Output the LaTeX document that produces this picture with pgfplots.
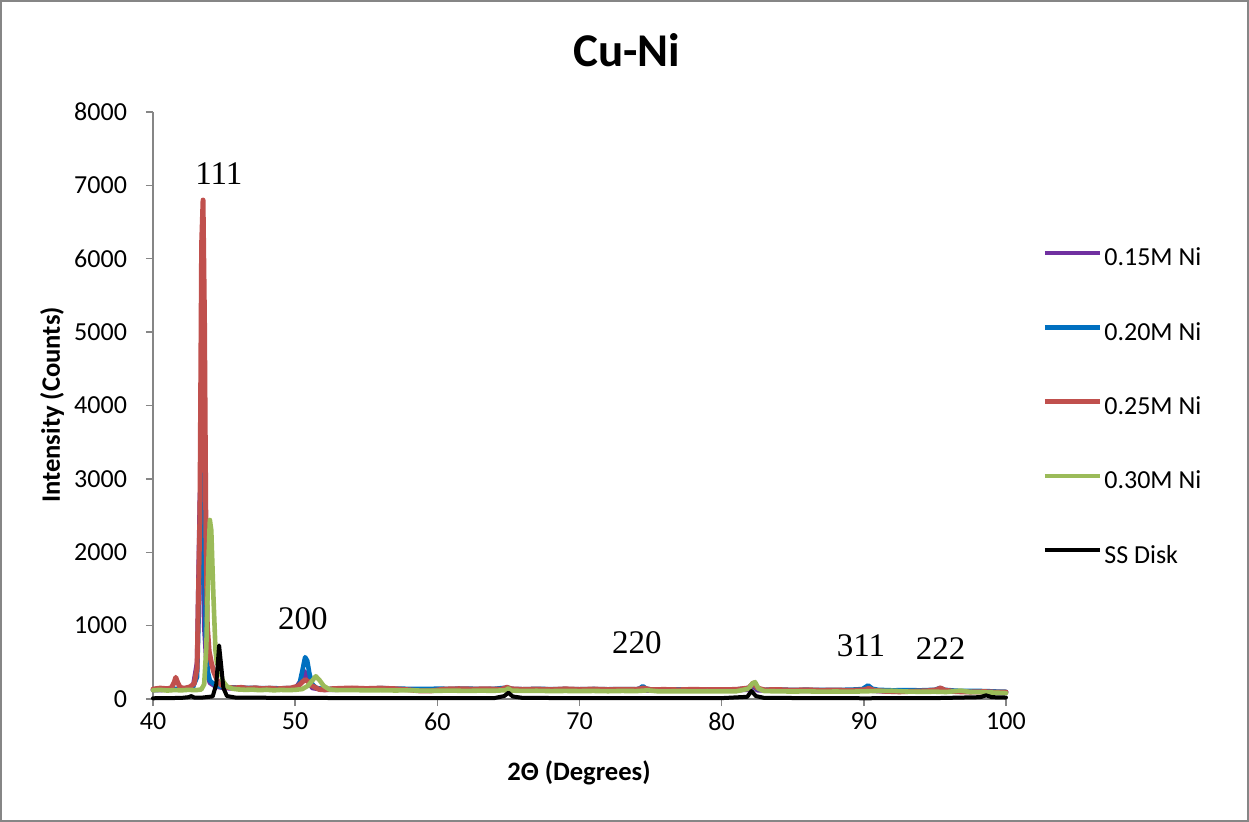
\documentclass[border=0pt]{standalone}
\usepackage{fontspec}
\setmainfont{Carlito}
\newfontfamily\peakfont{Liberation Serif}
\usepackage{pgfplots}
\pgfplotsset{compat=1.18}

\definecolor{cPurple}{HTML}{7030A0}
\definecolor{cBlue}{HTML}{0070C0}
\definecolor{cRed}{HTML}{C0504D}
\definecolor{cGreen}{HTML}{9BBB59}
\definecolor{cAxis}{HTML}{868686}

% XRD scans: 2-theta (degrees) vs intensity (counts)
\pgfplotstableread{
x y
40.0 120
41.0 125
42.0 130
42.8 150
43.1 500
43.3 2800
43.45 2900
43.6 1000
43.8 350
44.0 220
44.4 170
45.0 150
46.0 140
47.0 140
48.0 135
49.0 138
50.0 140
50.4 250
50.65 380
50.9 260
51.2 150
52.0 125
55.0 130
60.0 125
65.0 135
70.0 120
75.0 115
80.0 118
81.9 125
82.2 180
82.5 120
85.0 112
90.0 115
90.1 118
90.35 140
90.6 112
92.0 100
95.0 105
95.2 110
95.4 128
95.6 105
97.0 100
100.0 90
}\NiA

\pgfplotstableread{
x y
40.0 125
41.0 130
42.0 140
42.8 160
43.1 300
43.3 1800
43.45 3300
43.55 2600
43.7 900
43.85 380
44.0 250
44.3 200
44.7 170
45.2 160
46.0 155
47.0 150
48.0 148
49.0 145
50.0 150
50.3 200
50.5 380
50.7 570
50.85 520
51.0 350
51.2 200
51.5 150
52.0 135
53.0 140
54.0 145
55.0 140
56.0 148
57.0 142
58.0 138
59.0 136
60.0 140
61.0 138
62.0 142
63.0 136
64.0 138
64.9 155
65.3 135
66.0 132
67.0 138
68.0 134
69.0 136
70.0 132
71.0 136
72.0 132
73.0 135
74.0 132
74.25 145
74.45 175
74.7 140
75.0 130
76.0 128
77.0 130
78.0 128
79.0 130
80.0 126
81.0 128
81.9 150
82.2 205
82.5 140
83.0 125
84.0 128
85.0 124
86.0 126
87.0 122
88.0 124
89.0 126
89.9 135
90.3 185
90.6 140
91.0 125
92.0 118
93.0 120
94.0 118
95.0 125
95.35 150
95.7 125
96.5 112
97.5 110
98.5 108
99.5 100
100.0 98
}\NiB

\pgfplotstableread{
x y
40.0 135
40.5 148
41.0 140
41.3 152
41.5 230
41.6 295
41.7 240
41.9 160
42.2 145
42.6 165
42.9 210
43.1 420
43.3 2500
43.42 6200
43.52 6800
43.62 5200
43.72 2300
43.82 1000
43.95 650
44.1 500
44.25 380
44.5 260
44.8 190
45.2 160
45.7 150
46.2 158
46.7 145
47.2 152
47.7 140
48.2 148
48.7 138
49.2 145
49.7 150
50.2 175
50.5 230
50.7 265
50.9 240
51.1 190
51.4 160
51.7 130
52.1 125
52.6 140
53.2 145
54.0 150
55.0 142
56.0 148
57.0 140
58.0 125
58.8 110
59.6 112
60.5 135
61.5 140
62.5 135
63.5 138
64.5 132
64.9 160
65.2 138
66.0 130
67.0 135
68.0 128
69.0 138
70.0 130
71.0 135
72.0 128
73.0 132
74.0 130
74.5 150
75.0 128
76.0 130
77.0 125
78.0 132
79.0 126
80.0 128
81.0 130
81.9 150
82.2 215
82.5 150
83.0 125
84.0 128
85.0 120
86.0 126
87.0 118
88.0 122
89.0 116
90.0 125
90.35 145
90.7 120
91.5 105
92.5 98
93.5 105
94.5 112
95.1 125
95.4 150
95.7 120
96.5 100
97.5 95
98.5 100
99.5 92
100.0 95
}\NiC

\pgfplotstableread{
x y
40.0 118
40.5 125
41.0 115
41.5 122
42.0 118
42.5 125
43.0 120
43.4 130
43.6 200
43.75 700
43.9 1900
44.0 2440
44.1 2300
44.25 1400
44.4 650
44.5 480
44.6 500
44.7 420
44.9 250
45.2 170
45.6 140
46.0 130
46.5 125
47.0 128
47.5 120
48.0 126
48.5 118
49.0 124
49.5 120
50.0 125
50.5 135
50.9 180
51.2 250
51.45 310
51.7 260
52.0 180
52.4 130
53.0 120
54.0 122
55.0 118
56.0 120
57.0 116
58.0 118
59.0 114
60.0 112
61.0 115
62.0 110
63.0 114
64.0 112
64.8 120
65.0 145
65.2 115
66.0 110
67.0 112
68.0 108
69.0 110
70.0 108
71.0 110
72.0 106
73.0 110
74.0 108
74.8 118
75.5 105
76.0 104
77.0 106
78.0 104
79.0 105
80.0 103
81.0 104
81.9 140
82.15 210
82.35 230
82.6 140
83.0 108
84.0 104
85.0 102
86.0 104
87.0 100
88.0 102
89.0 100
90.0 104
91.0 110
92.0 112
93.0 102
94.0 98
95.0 100
95.8 95
96.8 115
97.5 95
98.5 92
99.5 85
100.0 80
}\NiD

\pgfplotstableread{
x y
40.0 10
41.0 12
42.0 15
42.5 25
42.7 40
42.9 20
43.5 20
44.2 35
44.45 200
44.65 730
44.8 450
44.95 150
45.2 40
45.8 20
47.0 18
50.0 15
55.0 12
60.0 12
64.0 12
64.7 40
65.0 85
65.3 35
66.0 15
70.0 12
75.0 12
80.0 12
81.8 30
82.1 110
82.4 40
83.0 15
90.0 10
95.0 12
98.2 25
98.6 50
99.0 25
100.0 20
}\SSDisk

\begin{document}
\begin{tikzpicture}
\path[use as bounding box] (0,0) rectangle (624.5bp,411bp);
\draw[cAxis, line width=0.8bp] (0.4bp,0.4bp) rectangle (624.1bp,410.6bp);
\begin{axis}[
  at={(76.5bp,61.5bp)}, anchor=south west,
  scale only axis, width=426.5bp, height=293.5bp,
  xmin=40, xmax=100, ymin=0, ymax=8000,
  axis x line*=bottom, axis y line*=left,
  axis line style={draw=cAxis, line width=0.7bp, -},
  xtick={40,50,...,100}, ytick={0,1000,...,8000},
  tick align=outside, major tick length=3.5bp,
  tick style={draw=cAxis, line width=0.7bp},
  scaled y ticks=false,
  /pgf/number format/assume math mode=true,
  /pgf/number format/1000 sep={},
  tick label style={font=\fontsize{13bp}{15bp}\selectfont, text=black},
  yticklabel style={xshift=-6bp},
  title={Cu-Ni},
  title style={at={(axis description cs:0.5557,1.085)}, anchor=center,
    font=\fontsize{23.5bp}{27bp}\selectfont\bfseries},
  xlabel={2Θ (Degrees)},
  xlabel style={at={(axis description cs:0.4994,-0.126)}, anchor=center,
    font=\fontsize{13.3bp}{15bp}\selectfont\bfseries},
  ylabel={Intensity (Counts)},
  ylabel style={at={(axis description cs:-0.1184,0.5009)}, anchor=center,
    font=\fontsize{13.3bp}{15bp}\selectfont\bfseries},
  legend cell align=left,
  legend image code/.code={\draw[#1, line cap=butt] (0bp,3.4bp) -- (27.5bp,3.4bp);},
  legend style={draw=none, fill=none,
    at={(axis description cs:1.0422,0.4950)}, anchor=west,
    font=\fontsize{13bp}{15bp}\selectfont,
    inner sep=0pt, row sep=25.2bp, column sep=1bp,
    nodes={inner sep=0pt, text height=9bp, text depth=3bp}},
  every axis plot/.append style={line width=2.3bp, line join=round, line cap=round},
  clip=false,
]
\addplot[cPurple] table {\NiA};
\addlegendentry{0.15M Ni}
\addplot[cBlue] table {\NiB};
\addlegendentry{0.20M Ni}
\addplot[cRed, line width=2.5bp] table {\NiC};
\addlegendentry{0.25M Ni}
\addplot[cGreen] table {\NiD};
\addlegendentry{0.30M Ni}
\addplot[black, line width=2bp] table {\SSDisk};
\addlegendentry{SS Disk}

\begin{scope}[every node/.style={font=\peakfont\fontsize{16.5bp}{18bp}\selectfont, anchor=center}]
\node at (axis cs:44.64,7166) {111};
\node at (axis cs:50.55,1100) {200};
\node at (axis cs:74.04,763) {220};
\node at (axis cs:89.8,722) {311};
\node at (axis cs:95.4,681) {222};
\end{scope}
\end{axis}
\end{tikzpicture}
\end{document}
